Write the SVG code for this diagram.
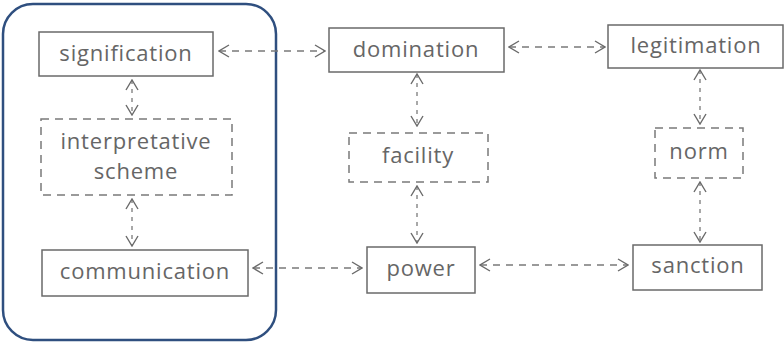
<svg xmlns="http://www.w3.org/2000/svg" width="784" height="343" viewBox="0 0 784 343">
<defs>
<marker id="ah" viewBox="0 0 12 14" refX="11" refY="7" markerWidth="12" markerHeight="14" markerUnits="userSpaceOnUse" orient="auto-start-reverse">
<path d="M1,1 L11,7 L1,13" fill="none" stroke="#6a6a6a" stroke-width="1.4"/>
</marker>
</defs>
<style>
.box{fill:#fff;stroke:#6a6a6a;stroke-width:1.5}
.dbox{fill:#fff;stroke:#7a7a7a;stroke-width:1.5;stroke-dasharray:8 6}
.lbl{font-family:"Open Sans","DejaVu Sans",sans-serif;font-size:22px;letter-spacing:0.8px;fill:#666;text-anchor:middle}
.c{fill:none;stroke:#7a7a7a;stroke-width:1.3;stroke-dasharray:7 6;marker-start:url(#ah);marker-end:url(#ah)}
.cv{fill:none;stroke:#7a7a7a;stroke-width:1.3;stroke-dasharray:4 5;marker-start:url(#ah);marker-end:url(#ah)}
</style>
<rect x="0" y="0" width="784" height="343" fill="#fff"/>
<rect id="frame" x="3" y="4" width="273" height="336" rx="30" ry="30" fill="none" stroke="#2f4f7f" stroke-width="2.5"/>
<g id="connectors">
<line class="c" x1="219" y1="51" x2="325" y2="51"/>
<line class="c" x1="509" y1="47" x2="605" y2="47"/>
<line class="c" x1="253" y1="268" x2="362" y2="268"/>
<line class="c" x1="480" y1="265" x2="628" y2="265"/>
<line class="cv" x1="132" y1="80" x2="132" y2="115"/>
<line class="cv" x1="132" y1="199" x2="132" y2="246"/>
<line class="cv" x1="417" y1="74" x2="417" y2="126"/>
<line class="cv" x1="417" y1="186" x2="417" y2="243"/>
<line class="cv" x1="700" y1="70" x2="700" y2="124"/>
<line class="cv" x1="700" y1="182" x2="700" y2="242"/>
</g>
<g id="signification"><rect class="box" x="39" y="32" width="174" height="44"/><text class="lbl" x="126" y="61">signification</text></g>
<g id="interpretative-scheme"><rect class="dbox" x="41" y="119" width="191" height="76"/><text class="lbl" x="136" y="149">interpretative</text><text class="lbl" x="136" y="179">scheme</text></g>
<g id="communication"><rect class="box" x="42" y="250" width="206" height="46"/><text class="lbl" x="145" y="279">communication</text></g>
<g id="domination"><rect class="box" x="329" y="28" width="175" height="44"/><text class="lbl" x="416" y="57">domination</text></g>
<g id="facility"><rect class="dbox" x="349" y="133" width="139" height="49"/><text class="lbl" x="418" y="163">facility</text></g>
<g id="power"><rect class="box" x="367" y="247" width="108" height="46"/><text class="lbl" x="421" y="276">power</text></g>
<g id="legitimation"><rect class="box" x="608" y="25" width="175" height="43"/><text class="lbl" x="696" y="53">legitimation</text></g>
<g id="norm"><rect class="dbox" x="655" y="128" width="88" height="50"/><text class="lbl" x="699" y="159">norm</text></g>
<g id="sanction"><rect class="box" x="633" y="245" width="129" height="45"/><text class="lbl" x="698" y="273">sanction</text></g>
</svg>
